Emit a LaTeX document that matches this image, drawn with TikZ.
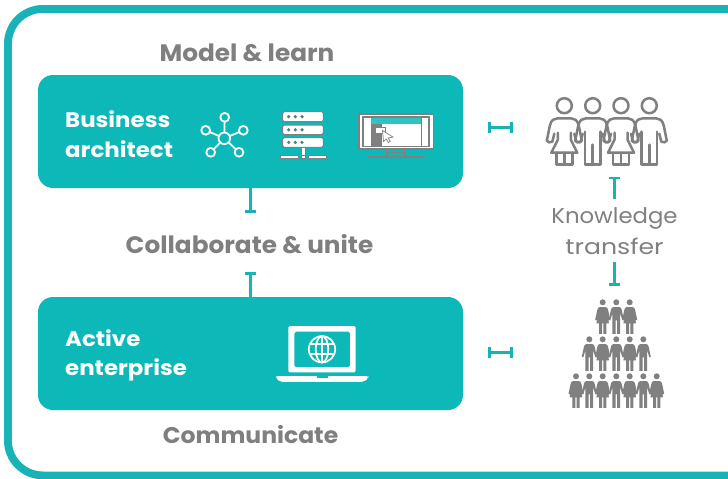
\documentclass[tikz,border=0pt]{standalone}
\usepackage{fontspec}
\setmainfont{Poppins}
\newfontfamily\headfont[FakeStretch=1.04]{Poppins}
\newfontfamily\titlefont[FakeStretch=1.09]{Poppins}
\newfontfamily\lightfont[FakeStretch=1.06]{Poppins}
\newfontfamily\lightwide[FakeStretch=1.17]{Poppins}
\usetikzlibrary{arrows.meta}
\definecolor{tealbox}{HTML}{0CB8B8}
\definecolor{tealline}{HTML}{17B3B7}
\definecolor{greyink}{HTML}{808080}
\definecolor{greytext}{HTML}{7F7F7F}
\definecolor{dotgrey}{HTML}{4F7F80}
\tikzset{
  x=1pt,y=-1pt,
  panel/.style={draw=none,fill=tealbox,rounded corners=15pt,minimum width=425pt,minimum height=113pt,inner sep=0pt},
  heading/.style={text=greytext,font=\headfont\fontsize{23.8}{26}\selectfont\bfseries,inner sep=0pt},
  headingsmall/.style={text=greytext,font=\headfont\fontsize{22.6}{26}\selectfont\bfseries,inner sep=0pt},
  boxtitle/.style={text=white,anchor=west,font=\titlefont\fontsize{21}{24}\selectfont\bfseries,inner sep=0pt},
  lighttext/.style={text=greyink,font=\lightfont\fontsize{21.5}{24}\selectfont,inner sep=0pt},
  lighttextwide/.style={text=greyink,font=\lightwide\fontsize{21.5}{24}\selectfont,inner sep=0pt},
  link/.style={draw=tealline,line width=2.4pt},
  linkbar/.style={link,{Bar[width=11pt,line width=2.6pt,length=0pt]}-{Bar[width=11pt,line width=2.6pt,length=0pt]}},
  linkend/.style={link,-{Bar[width=11pt,line width=2.6pt,length=0pt]}},
  netline/.style={draw=white,line width=1.8pt},
  serverrow/.style={draw=greyink,fill=white,line width=1pt,rounded corners=1.5pt},
  ink/.style={draw=greyink,line width=2.5pt,line join=round,line cap=round},
  pics/womanline/.style={code={
    \draw[ink] (0,0) circle (7.5);
    \draw[ink] (-10,28) -- (-12,36) .. controls (-14,37) and (-17,37) .. (-17.5,35) -- (-14.5,20) .. controls (-13,14) and (-10,12.7) .. (-7,12.7) -- (7,12.7) .. controls (10,12.7) and (13,14) .. (14.5,20) -- (17.5,35) .. controls (17,37) and (14,37) .. (12,36) -- (10,28);
    \draw[ink] (-6.5,27) -- (-6.5,34) -- (-13,47) -- (13,47) -- (6.5,34) -- (6.5,27);
    \draw[ink] (-8,47) -- (-8,59) -- (8,59) -- (8,47) (0,47) -- (0,59);
  }},
  pics/manline/.style={code={
    \draw[ink] (0,0) circle (7.5);
    \draw[ink] (-10,28) -- (-12,36) .. controls (-14,37) and (-17,37) .. (-17.5,35) -- (-14.5,20) .. controls (-13,14) and (-10,12.7) .. (-7,12.7) -- (7,12.7) .. controls (10,12.7) and (13,14) .. (14.5,20) -- (17.5,35) .. controls (17,37) and (14,37) .. (12,36) -- (10,28);
    \draw[ink] (-7.8,26) -- (-7.8,59) -- (7.8,59) -- (7.8,26) (0,39) -- (0,59);
  }},
  pics/womanfill/.style={code={
    \fill[greyink] (0,0) circle (3);
    \fill[greyink] (-3,4.8) -- (3,4.8) .. controls (4.5,4.8) and (5,6) .. (5.5,8) -- (7.5,17.5) -- (6,18) -- (4.6,12) -- (6.3,21) -- (3.6,21) -- (3.6,31.5) -- (0.7,31.5) -- (0.7,21) -- (-0.7,21) -- (-0.7,31.5) -- (-3.6,31.5) -- (-3.6,21) -- (-6.3,21) -- (-4.6,12) -- (-6,18) -- (-7.5,17.5) -- (-5.5,8) .. controls (-5,6) and (-4.5,4.8) .. (-3,4.8) -- cycle;
  }},
  pics/manfill/.style={code={
    \fill[greyink] (0,0) circle (3);
    \fill[greyink] (-3,4.8) -- (3,4.8) .. controls (4.5,4.8) and (5,6) .. (5.5,8) -- (7.5,17.5) -- (6,18) -- (3.9,11) -- (3.9,31.5) -- (0.7,31.5) -- (0.7,18) -- (-0.7,18) -- (-0.7,31.5) -- (-3.9,31.5) -- (-3.9,11) -- (-6,18) -- (-7.5,17.5) -- (-5.5,8) .. controls (-5,6) and (-4.5,4.8) .. (-3,4.8) -- cycle;
  }},
}
\begin{document}
\begin{tikzpicture}
\useasboundingbox (0,0) rectangle (728,479);
\begin{scope}
\clip (0,0) rectangle (728,479);
\fill[white] (0,0) rectangle (728,479);
\draw[tealline,line width=7.8pt,rounded corners=35pt] (7.9,8.9) rectangle (770,475.4);
\end{scope}

% panels
\node[panel] (bizbox) at (250.5,131.5) {};
\node[panel] (entbox) at (250.5,353.5) {};

% texts
\node[heading] (model) at (247,53) {Model \& learn};
\node[heading] (collab) at (249.5,244.5) {Collaborate \& unite};
\node[headingsmall] (comm) at (250.5,434.5) {Communicate};
\node[boxtitle] (t1) at (65,119.5) {Business};
\node[boxtitle] (t2) at (65,149.5) {architect};
\node[boxtitle] (t3) at (65,338.5) {Active};
\node[boxtitle] (t4) at (65,369.5) {enterprise};
\node[lighttext] (know) at (614.5,218) {Knowledge};
\node[lighttextwide] (trans) at (614.5,246) {transfer};

% connectors
\coordinate (c1) at (250.5,213);
\coordinate (c2) at (250.5,272);
\draw[linkend] (bizbox.south) -- (c1);
\draw[linkend] (entbox.north) -- (c2);
\coordinate (h1a) at (488,127.5);
\coordinate (h1b) at (513,127.5);
\coordinate (h2a) at (488,352.5);
\coordinate (h2b) at (513,352.5);
\draw[linkbar] (h1a) -- (h1b);
\draw[linkbar] (h2a) -- (h2b);
\coordinate (k1a) at (614.5,176.5);
\coordinate (k1b) at (614.5,199);
\coordinate (k2a) at (614.5,262);
\coordinate (k2b) at (614.5,285.5);
\draw[linkend] (k1b) -- (k1a);
\draw[linkend] (k2a) -- (k2b);

% network icon
\coordinate (nc) at (224.3,138.3);
\foreach \px/\py in {224.7/117.3,205.7/130.3,243.3/130.3,210.7/152.3,239/152.3}{
  \draw[netline] (nc) -- (\px,\py);
  \draw[netline,fill=tealbox] (\px,\py) circle (4.4);
}
\draw[netline,fill=tealbox] (nc) circle (5.8);

% server icon
\foreach \ya/\yb in {111.7/121.7,125/134.6,137.5/147.3}{
  \draw[serverrow] (282.7,\ya) rectangle (323.3,\yb);
  \foreach \dx in {288.7,295.3,302}{
    \fill[dotgrey] (\dx,{(\ya+\yb)/2}) circle (1.8);
  }
}
\draw[greyink,fill=white,line width=0.9pt] (301.7,147.3) rectangle (305,155);
\draw[greyink,fill=white,line width=0.9pt] (280.7,155) rectangle (298.7,158.5);
\draw[greyink,fill=white,line width=0.9pt] (301.7,155) rectangle (305,158.5);
\draw[greyink,fill=white,line width=0.9pt] (308,155) rectangle (326,158.5);

% monitor icon
\draw[greyink,line width=1.2pt] (387,149) -- (387,156) (405,149) -- (405,156);
\draw[greyink,line width=2pt] (367.5,156.8) -- (425,156.8);
\draw[greyink,line width=1.2pt] (387,152.8) -- (405,152.8);
\draw[greyink,fill=white,line width=1.6pt] (358.8,113.8) rectangle (433.6,149);
\draw[greyink,fill=white,line width=1.4pt] (363,117) rectangle (429,146.5);
\fill[white] (364,118) rectangle (428,145.5);
\fill[greyink] (371,123) rectangle (381.5,145.5);
\fill[tealbox!85!white] (371,118) rectangle (421,123.5);
\draw[greyink,line width=0.8pt] (421,118) -- (421,145.5);
\draw[greyink,fill=white,line width=0.7pt] (375,127) rectangle (385,133);
\fill[white,draw=greyink,line width=0.7pt] (382.5,130.5) -- (383.5,141.5) -- (386.3,139) -- (388.5,142.5) -- (390.3,141.3) -- (388.2,138) -- (393,137) -- cycle;

% laptop icon
\fill[white,even odd rule,rounded corners=1.5pt] (288.3,326) rectangle (355.7,372.3) (294.3,331.7) rectangle (350,367.2);
\fill[white,rounded corners=2pt] (276,376) -- (368.3,376) -- (368.3,378) -- (364,381.8) -- (280,381.8) -- (276,378) -- cycle;
\fill[tealbox] (316.5,375.5) rectangle (327.5,377.5);
\begin{scope}[draw=white,line width=1.7pt]
\draw (322,349.3) circle (13.2);
\draw (322,349.3) ellipse (6.3 and 13.2);
\draw (322,336.1) -- (322,362.5);
\draw (310.3,344.3) -- (333.7,344.3);
\draw (310.3,354.3) -- (333.7,354.3);
\end{scope}

% outlined people
\pic at (564.3,105.7) {womanline};
\pic at (592.7,105.7) {manline};
\pic at (621,105.7) {womanline};
\pic at (649.3,105.7) {manline};

% filled people
\pic at (602.7,302.3) {womanfill};
\pic at (616.3,302.3) {manfill};
\pic at (629.7,302.3) {womanfill};
\pic at (589.3,339.3) {manfill};
\pic at (602.7,339.3) {womanfill};
\pic at (616.3,339.3) {manfill};
\pic at (629.7,339.3) {womanfill};
\pic at (643.3,339.3) {manfill};
\pic at (576,376.3) {womanfill};
\pic at (589.3,376.3) {manfill};
\pic at (602.7,376.3) {womanfill};
\pic at (616.3,376.3) {manfill};
\pic at (629.7,376.3) {womanfill};
\pic at (643.3,376.3) {manfill};
\pic at (656.7,376.3) {womanfill};
\end{tikzpicture}
\end{document}
